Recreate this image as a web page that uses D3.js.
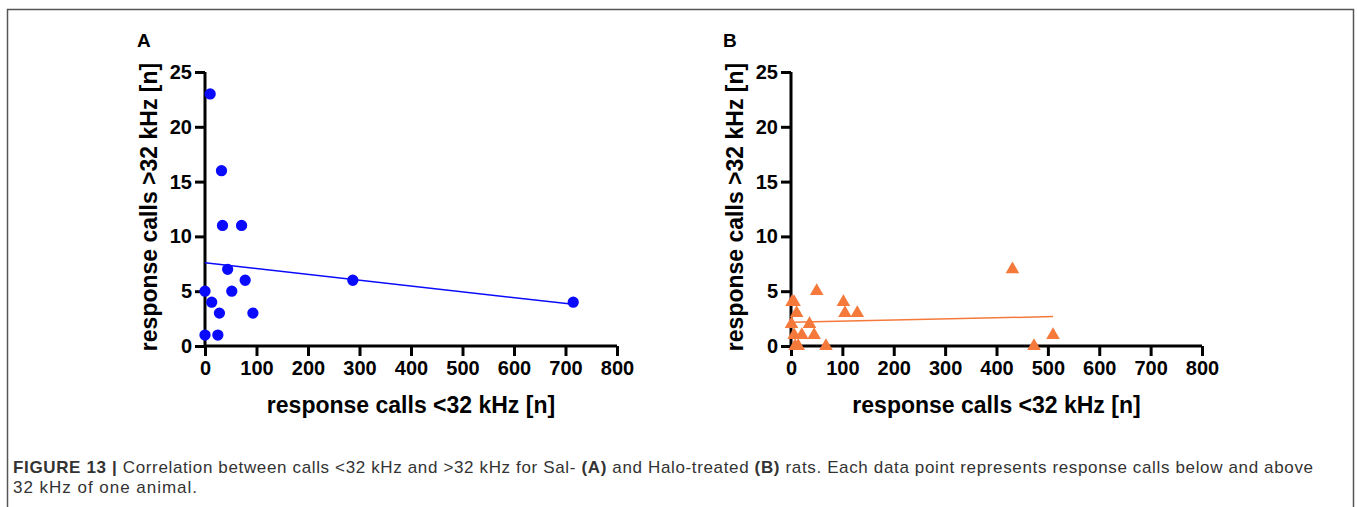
<!DOCTYPE html>
<html>
<head>
<meta charset="utf-8">
<script src="https://cdn.jsdelivr.net/npm/d3@7"></script>
<style>
  body { margin: 0; background: #fff; }
  svg { display: block; font-family: "Liberation Sans", Arial, sans-serif; }
</style>
</head>
<body>
<div id="fig"></div>
<script>
// panel A (Sal) : calls <32 kHz vs >32 kHz
var salLow  = [10, 32, 34, 71, 44, 78, 52, 0, 13, 28, 93, 0, 25, 287, 715];
var salHigh = [23, 16, 11, 11, 7, 6, 5, 5, 4, 3, 3, 1, 1, 6, 4];
// panel B (Halo)
var haloLow  = [2, 6, 11, 1, 36, 50, 102, 105, 129, 431, 473, 510, 6, 21, 45, 8, 14, 68];
var haloHigh = [4, 4, 3, 2, 2, 5, 4, 3, 3, 7, 0, 1, 1, 1, 1, 0, 0, 0];

var xTicks = [0, 100, 200, 300, 400, 500, 600, 700, 800];
var yTicks = [0, 5, 10, 15, 20, 25];

var W = 1357, H = 507;
var svg = d3.select("#fig").append("svg").attr("width", W).attr("height", H);

// frame
svg.append("path")
  .attr("d", "M7.5," + H + "V9.5H1353.5V" + H)
  .attr("fill", "none").attr("stroke", "#555").attr("stroke-width", 1.5);

var y = d3.scaleLinear().domain([0, 25]).range([346, 72]);

function fit(xs, ys) {
  var mx = d3.mean(xs), my = d3.mean(ys), sxy = 0, sxx = 0;
  xs.forEach(function(v, i) { sxy += (v - mx) * (ys[i] - my); sxx += (v - mx) * (v - mx); });
  var b = sxy / sxx;
  return { a: my - b * mx, b: b };
}

function panel(opt) {
  var x = d3.scaleLinear().domain([0, 800]).range(opt.range);
  var g = svg.append("g");

  g.append("text").attr("x", opt.labelX).attr("y", 47)
    .attr("font-size", 19).attr("font-weight", "bold").text(opt.label);

  var ax = g.append("g").attr("transform", "translate(0," + y(0) + ")")
    .call(d3.axisBottom(x).tickValues(xTicks).tickSize(10).tickSizeOuter(0).tickPadding(5));
  var ay = g.append("g").attr("transform", "translate(" + x(0) + ",0)")
    .call(d3.axisLeft(y).tickValues(yTicks).tickSize(10).tickSizeOuter(0).tickPadding(3));
  [ax, ay].forEach(function(a) {
    a.select(".domain").attr("stroke-width", 3).attr("stroke", "#000");
    a.selectAll(".tick line").attr("stroke-width", 3).attr("stroke", "#000");
    a.selectAll(".tick text").attr("font-size", 20).attr("font-weight", "bold")
      .attr("fill", "#000").attr("font-family", "Liberation Sans, Arial, sans-serif");
  });
  ay.select(".domain").attr("d", "M0," + (y(0) + 1.5) + "V" + y(25));
  ax.select(".domain").attr("d", "M" + x(0) + ",0H" + x(800));

  g.append("text")
    .attr("transform", "translate(" + (x(0) - 48) + "," + ((y(0) + y(25)) / 2 - 2) + ") rotate(-90)")
    .attr("text-anchor", "middle").attr("font-size", 23).attr("font-weight", "bold")
    .text("response calls >32 kHz [n]");
  g.append("text")
    .attr("x", (x(0) + x(800)) / 2).attr("y", 413)
    .attr("text-anchor", "middle").attr("font-size", 23).attr("font-weight", "bold")
    .text("response calls <32 kHz [n]");

  var r = fit(opt.xs, opt.ys);
  var x0 = d3.min(opt.xs), x1 = d3.max(opt.xs);
  g.append("line")
    .attr("x1", x(x0)).attr("y1", y(r.a + r.b * x0))
    .attr("x2", x(x1)).attr("y2", y(r.a + r.b * x1))
    .attr("stroke", opt.color).attr("stroke-width", 1.5);

  var pts = opt.xs.map(function(v, i) { return [v, opt.ys[i]]; });
  g.selectAll("path.pt").data(pts).enter().append("path")
    .attr("class", "pt")
    .attr("transform", function(d) { return "translate(" + x(d[0]) + "," + y(d[1]) + ")"; })
    .attr("d", d3.symbol().type(opt.symbol).size(opt.size))
    .attr("fill", opt.color);
}

panel({ range: [205, 617], xs: salLow, ys: salHigh, color: "#0a0aff", symbol: d3.symbolCircle, size: 100, label: "A", labelX: 137 });
panel({ range: [791, 1202], xs: haloLow, ys: haloHigh, color: "#f4793b", symbol: d3.symbolTriangle, size: 80, label: "B", labelX: 723 });

// caption
var cap = svg.append("text").attr("x", 13).attr("y", 473)
  .attr("font-size", 17).attr("fill", "#333")
  .attr("textLength", 1300).attr("lengthAdjust", "spacing")
  .attr("font-family", "Liberation Sans, Arial, sans-serif");
cap.append("tspan").attr("font-weight", "bold").text("FIGURE 13 | ");
cap.append("tspan").text("Correlation between calls <32 kHz and >32 kHz for Sal- ");
cap.append("tspan").attr("font-weight", "bold").text("(A)");
cap.append("tspan").text(" and Halo-treated ");
cap.append("tspan").attr("font-weight", "bold").text("(B)");
cap.append("tspan").text(" rats. Each data point represents response calls below and above");
svg.append("text").attr("x", 13).attr("y", 493)
  .attr("font-size", 17).attr("fill", "#333")
  .attr("textLength", 184).attr("lengthAdjust", "spacing")
  .attr("font-family", "Liberation Sans, Arial, sans-serif")
  .text("32 kHz of one animal.");
</script>
</body>
</html>
